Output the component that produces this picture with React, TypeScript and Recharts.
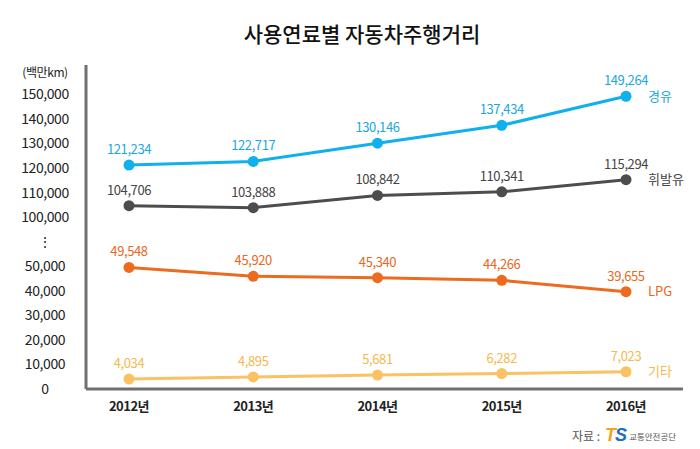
import React from 'react';
import { LineChart, Line, XAxis, YAxis, LabelList } from 'recharts';

const years = ['2012년', '2013년', '2014년', '2015년', '2016년'];
const diesel = [121234, 122717, 130146, 137434, 149264];
const gasoline = [104706, 103888, 108842, 110341, 115294];
const lpg = [49548, 45920, 45340, 44266, 39655];
const other = [4034, 4895, 5681, 6282, 7023];

// broken axis: 50,000 -> ⋮ -> 100,000
const yTickValues = [0, 10000, 20000, 30000, 40000, 50000, 60000, 70000, 80000, 90000, 100000, 110000, 120000];
const yTickLabels = ['0', '10,000', '20,000', '30,000', '40,000', '50,000', '⋮', '100,000', '110,000', '120,000', '130,000', '140,000', '150,000'];

const toAxis = (v: number) => (v >= 100000 ? v - 30000 : v);

const data = years.map((year, i) => ({
  year,
  diesel: diesel[i],
  gasoline: gasoline[i],
  lpg: lpg[i],
  other: other[i],
}));

const FONT = "'Noto Sans CJK KR', 'Noto Sans', sans-serif";

const series = [
  { key: 'diesel', name: '경유', color: '#0fb0ec', label: '#1aa8e2' },
  { key: 'gasoline', name: '휘발유', color: '#4d4d4f', label: '#444' },
  { key: 'lpg', name: 'LPG', color: '#ed6b1f', label: '#e8681c' },
  { key: 'other', name: '기타', color: '#f9c262', label: '#f5b94d' },
];

const YTick = (props: any) => {
  const { y, payload } = props;
  const idx = yTickValues.indexOf(payload.value);
  return (
    <text x={45} y={y} dy="0.35em" textAnchor="middle" fill="#222" fontSize={14} fontFamily={FONT} letterSpacing={-0.4}>
      {yTickLabels[idx]}
    </text>
  );
};

const XTick = (props: any) => {
  const { x, y, payload } = props;
  return (
    <text x={x} y={y + 14} textAnchor="middle" fill="#222" fontSize={13} fontWeight={700} fontFamily={FONT} letterSpacing={-0.5}>
      {payload.value}
    </text>
  );
};

const endName = (name: string, color: string) => (props: any) => {
  const { x, y, index } = props;
  if (index !== years.length - 1) return null;
  return (
    <text x={x + 22} y={y} dy="0.35em" fill={color} fontSize={13} fontFamily={FONT}>
      {name}
    </text>
  );
};

export default function App() {
  return (
    <div style={{ position: 'absolute', left: 0, top: 0, width: 700, height: 449, background: '#fff', fontFamily: FONT }}>
      <div style={{ position: 'absolute', left: 0, width: 724, top: 18, textAlign: 'center', fontSize: 21, fontWeight: 500, color: '#111' }}>
        사용연료별 자동차주행거리
      </div>
      <div style={{ position: 'absolute', left: 0, width: 90, top: 63, textAlign: 'center', fontSize: 12, color: '#222', letterSpacing: -0.4 }}>
        (백만km)
      </div>
      <LineChart width={700} height={449} data={data} margin={{ top: 65, right: 17, bottom: 0, left: 0 }}>
        <XAxis
          dataKey="year"
          padding={{ left: 43, right: 57 }}
          axisLine={{ stroke: '#707070', strokeWidth: 3 }}
          tickLine={false}
          tick={<XTick />}
          interval={0}
          height={60}
        />
        <YAxis
          width={86}
          domain={[0, 132000]}
          ticks={yTickValues}
          interval={0}
          axisLine={{ stroke: '#707070', strokeWidth: 3 }}
          tickLine={false}
          tick={<YTick />}
        />
        {series.map((s) => (
          <Line
            key={s.key}
            dataKey={(d: any) => toAxis(d[s.key])}
            stroke={s.color}
            strokeWidth={3}
            dot={{ r: 5.5, fill: s.color, stroke: s.color, strokeWidth: 0 }}
            activeDot={false}
            isAnimationActive={false}
          >
            <LabelList
              dataKey={s.key}
              position="top"
              offset={11}
              fill={s.label}
              fontSize={13}
              fontFamily={FONT}
              letterSpacing={-0.4}
              formatter={(v: any) => Number(v).toLocaleString('en-US')}
            />
            <LabelList dataKey={s.key} content={endName(s.name, s.label)} />
          </Line>
        ))}
      </LineChart>
      <div style={{ position: 'absolute', left: 572, top: 425, display: 'flex', alignItems: 'center', whiteSpace: 'nowrap' }}>
        <span style={{ fontSize: 12, color: '#555' }}>자료 :</span>
        <span style={{ marginLeft: 5, fontSize: 18, fontWeight: 900, fontStyle: 'italic', fontFamily: "'Liberation Sans', sans-serif", letterSpacing: -1 }}>
          <span style={{ color: '#f5a31a' }}>T</span>
          <span style={{ color: '#1d6fc0' }}>S</span>
        </span>
        <span style={{ marginLeft: 3, fontSize: 8.5, color: '#555' }}>교통안전공단</span>
      </div>
    </div>
  );
}
